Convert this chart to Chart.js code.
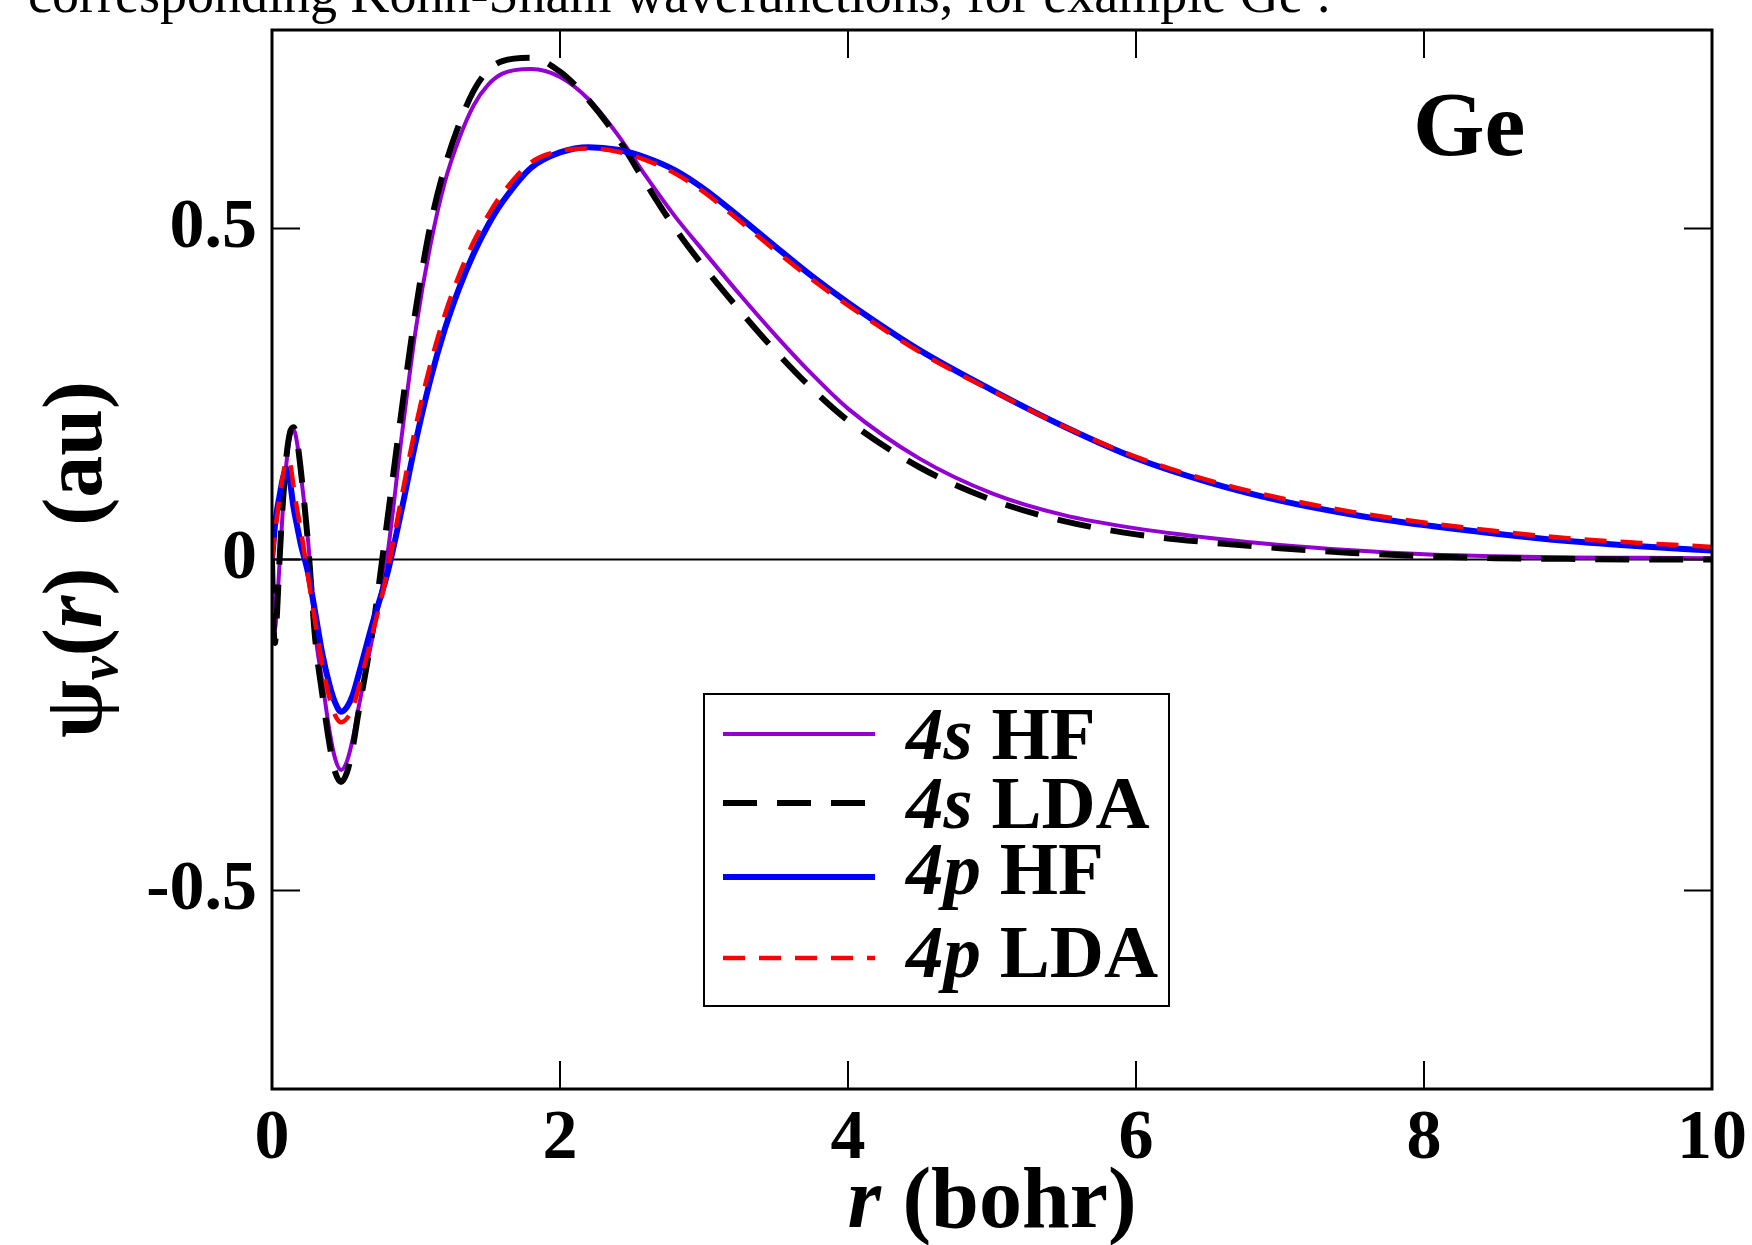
<!DOCTYPE html>
<html>
<head>
<meta charset="utf-8">
<script src="https://cdn.jsdelivr.net/npm/chart.js@4.4.0/dist/chart.umd.min.js"></script>
<style>
html, body { margin: 0; padding: 0; background: #fff; }
canvas { display: block; }
</style>
</head>
<body>
<canvas id="mycanvas" width="1752" height="1245"></canvas>
<script>
// radial grid (bohr) and the four valence wavefunctions
var r = [0, 0.01, 0.02, 0.035, 0.05, 0.075, 0.1, 0.125, 0.15, 0.175, 0.2, 0.25, 0.3, 0.35,
	0.4, 0.44, 0.48, 0.52, 0.56, 0.6, 0.7, 0.8, 0.9, 1.0, 1.1, 1.2, 1.3, 1.4, 1.5, 1.6, 1.8,
	2.0, 2.2, 2.4, 2.6, 2.8, 3.0, 3.25, 3.5, 3.75, 4.0, 4.5, 5.0, 5.5, 6.0, 6.5, 7.0, 7.5,
	8.0, 8.5, 9.0, 9.5, 10.0];
var psi4sHF = [0, -0.08, -0.106, -0.07, -0.015, 0.075, 0.145, 0.185, 0.196, 0.175, 0.13, 0.03, -0.11, -0.185,
	-0.26, -0.302, -0.318, -0.305, -0.272, -0.225, -0.115, 0.005, 0.185, 0.35, 0.475, 0.57, 0.636, 0.686, 0.717, 0.734, 0.741,
	0.729, 0.695, 0.642, 0.578, 0.518, 0.465, 0.400, 0.338, 0.280, 0.228, 0.152, 0.10, 0.067, 0.047, 0.033, 0.022, 0.014,
	0.008, 0.005, 0.003, 0.0025, 0.002];
var psi4sLDA = [0, -0.095, -0.126, -0.08, -0.01, 0.085, 0.155, 0.192, 0.20, 0.178, 0.135, 0.025, -0.12, -0.205,
	-0.28, -0.322, -0.336, -0.322, -0.285, -0.232, -0.105, 0.058, 0.225, 0.38, 0.505, 0.593, 0.658, 0.708, 0.739, 0.753, 0.758,
	0.737, 0.694, 0.637, 0.567, 0.50, 0.442, 0.376, 0.314, 0.258, 0.21, 0.139, 0.09, 0.058, 0.038, 0.026, 0.017, 0.01,
	0.005, 0.002, 0.001, 0.0, 0.0];
var psi4pHF = [0, 0.025, 0.05, 0.075, 0.093, 0.122, 0.137, 0.117, 0.078, 0.05, 0.023, -0.02, -0.08, -0.143,
	-0.19, -0.217, -0.23, -0.223, -0.205, -0.175, -0.095, -0.022, 0.075, 0.18, 0.272, 0.348, 0.41, 0.462, 0.505, 0.54, 0.592,
	0.615, 0.623, 0.619, 0.607, 0.588, 0.56, 0.517, 0.472, 0.428, 0.388, 0.316, 0.256, 0.201, 0.153, 0.117, 0.089, 0.068,
	0.052, 0.039, 0.028, 0.02, 0.0135];
var psi4pLDA = [0, 0.02, 0.04, 0.065, 0.09, 0.125, 0.15, 0.145, 0.11, 0.075, 0.045, -0.025, -0.095, -0.16,
	-0.21, -0.236, -0.246, -0.24, -0.225, -0.195, -0.11, -0.02, 0.095, 0.203, 0.295, 0.37, 0.43, 0.48, 0.52, 0.553, 0.60,
	0.617, 0.621, 0.616, 0.603, 0.583, 0.555, 0.511, 0.466, 0.423, 0.384, 0.313, 0.255, 0.201, 0.155, 0.12, 0.093, 0.072,
	0.056, 0.043, 0.032, 0.025, 0.019];

var xTicks = [0, 2, 4, 6, 8, 10];
var xTickLabels = ['0', '2', '4', '6', '8', '10'];
var yTicks = [-0.5, 0, 0.5];
var yTickLabels = ['-0.5', '0', '0.5'];

var serif = '"Liberation Serif", "Times New Roman", serif';

function pts(ys) {
	return r.map(function(x, i) { return {x: x, y: ys[i]}; });
}

var decor = {
	id: 'decor',
	beforeDatasetsDraw: function(chart) {
		var c = chart.ctx, a = chart.chartArea;
		var y0 = chart.scales.y.getPixelForValue(0);
		c.save();
		c.strokeStyle = '#000';
		c.lineWidth = 2;
		c.beginPath();
		c.moveTo(a.left, y0);
		c.lineTo(a.right, y0);
		c.stroke();
		c.restore();
	},
	afterDatasetsDraw: function(chart) {
		var c = chart.ctx, a = chart.chartArea;
		var sx = chart.scales.x, sy = chart.scales.y;
		var tl = 28;
		c.save();
		c.strokeStyle = '#000';
		c.lineWidth = 2;
		c.beginPath();
		xTicks.forEach(function(v) {
			if (v === 0 || v === 10) return;
			var px = sx.getPixelForValue(v);
			c.moveTo(px, a.bottom); c.lineTo(px, a.bottom - tl);
			c.moveTo(px, a.top); c.lineTo(px, a.top + tl);
		});
		yTicks.forEach(function(v) {
			var py = sy.getPixelForValue(v);
			c.moveTo(a.left, py); c.lineTo(a.left + tl, py);
			c.moveTo(a.right, py); c.lineTo(a.right - tl, py);
		});
		c.stroke();
		c.lineWidth = 3;
		c.strokeRect(a.left, a.top, a.right - a.left, a.bottom - a.top);

		// legend
		var rowLine = [734, 803, 877, 958];
		var rowBase = [759, 828, 894, 977];
		c.fillStyle = '#fff';
		c.fillRect(704, 694, 465, 312);
		c.lineWidth = 2;
		c.strokeStyle = '#000';
		c.strokeRect(704, 694, 465, 312);
		chart.data.datasets.forEach(function(ds, i) {
			c.save();
			c.strokeStyle = ds.borderColor;
			c.lineWidth = ds.borderWidth;
			c.setLineDash(ds.borderDash || []);
			c.beginPath();
			c.moveTo(723, rowLine[i]);
			c.lineTo(875, rowLine[i]);
			c.stroke();
			c.restore();
			var parts = ds.label.split(' ');
			c.fillStyle = '#000';
			c.textBaseline = 'alphabetic';
			c.textAlign = 'left';
			c.font = 'italic bold 75px ' + serif;
			c.fillText(parts[0], 906, rowBase[i]);
			var w = c.measureText(parts[0] + ' ').width;
			c.font = 'bold 75px ' + serif;
			c.fillText(parts[1], 906 + w, rowBase[i]);
		});
		c.restore();
	},
	afterDraw: function(chart) {
		var c = chart.ctx, a = chart.chartArea;
		c.save();
		c.fillStyle = '#000';
		c.textBaseline = 'alphabetic';
		c.textAlign = 'left';

		// clipped caption line from the slide above the plot
		c.font = '54px ' + serif;
		c.fillText('corresponding Kohn-Sham wavefunctions, for example Ge :', 28, 12);

		c.font = 'bold 92px ' + serif;
		c.fillText('Ge', 1413, 155);

		// x title
		var fI = 'italic bold 86px ' + serif, fB = 'bold 86px ' + serif;
		c.font = fI;
		var w1 = c.measureText('r').width;
		c.font = fB;
		var w2 = c.measureText(' (bohr)').width;
		var x0 = (a.left + a.right) / 2 - (w1 + w2) / 2;
		c.font = fI;
		c.fillText('r', x0, 1227);
		c.font = fB;
		c.fillText(' (bohr)', x0 + w1, 1227);

		// y title, rotated
		var parts = [
			['\u03c8', 'bold 84px ' + serif, 0],
			['v', 'italic bold 54px ' + serif, 16],
			['(', 'bold 84px ' + serif, 0],
			['r', 'italic bold 84px ' + serif, 0],
			[')', 'bold 84px ' + serif, 0],
			['  (au)', 'bold 84px ' + serif, 0]
		];
		var total = 0;
		parts.forEach(function(p) { c.font = p[1]; total += c.measureText(p[0]).width; });
		c.translate(101, (a.top + a.bottom) / 2);
		c.rotate(-Math.PI / 2);
		var x = -total / 2;
		parts.forEach(function(p) {
			c.font = p[1];
			c.fillText(p[0], x, p[2]);
			x += c.measureText(p[0]).width;
		});
		c.restore();
	}
};

var ctx = document.getElementById('mycanvas');
var chart = new Chart(ctx, {
	type: 'line',
	data: {
		datasets: [
			{label: '4s HF', data: pts(psi4sHF), borderColor: '#9400d3', borderWidth: 4, order: 4},
			{label: '4s LDA', data: pts(psi4sLDA), borderColor: '#000000', borderWidth: 6, borderDash: [34, 20], order: 3},
			{label: '4p HF', data: pts(psi4pHF), borderColor: '#0000ff', borderWidth: 6, order: 2},
			{label: '4p LDA', data: pts(psi4pLDA), borderColor: '#ff0000', borderWidth: 4.5, borderDash: [22, 14], order: 1}
		]
	},
	options: {
		responsive: false,
		animation: false,
		devicePixelRatio: 1,
		layout: {padding: {top: 30, right: 40, left: 0, bottom: 0}},
		elements: {
			point: {radius: 0, hoverRadius: 0},
			line: {cubicInterpolationMode: 'monotone', fill: false, borderCapStyle: 'butt'}
		},
		plugins: {
			legend: {display: false},
			tooltip: {enabled: false}
		},
		scales: {
			x: {
				type: 'linear',
				min: 0,
				max: 10,
				grid: {display: false, drawTicks: false},
				border: {display: false},
				afterBuildTicks: function(s) { s.ticks = xTicks.map(function(v) { return {value: v}; }); },
				afterFit: function(s) { s.height = 156; s.paddingLeft = 0; s.paddingRight = 0; },
				ticks: {
					autoSkip: false,
					maxRotation: 0,
					padding: 9,
					color: '#000',
					font: {family: serif, size: 70, weight: 'bold', lineHeight: 1.2},
					callback: function(v) { return xTickLabels[xTicks.indexOf(v)]; }
				}
			},
			y: {
				type: 'linear',
				min: -0.8,
				max: 0.8,
				grid: {display: false, drawTicks: false},
				border: {display: false},
				afterBuildTicks: function(s) { s.ticks = yTicks.map(function(v) { return {value: v}; }); },
				afterFit: function(s) { s.width = 272; s.paddingTop = 0; s.paddingBottom = 0; },
				ticks: {
					autoSkip: false,
					padding: 15,
					color: '#000',
					font: {family: serif, size: 70, weight: 'bold', lineHeight: 1.2},
					callback: function(v) { return yTickLabels[yTicks.indexOf(v)]; }
				}
			}
		}
	},
	plugins: [decor]
});
</script>
</body>
</html>
